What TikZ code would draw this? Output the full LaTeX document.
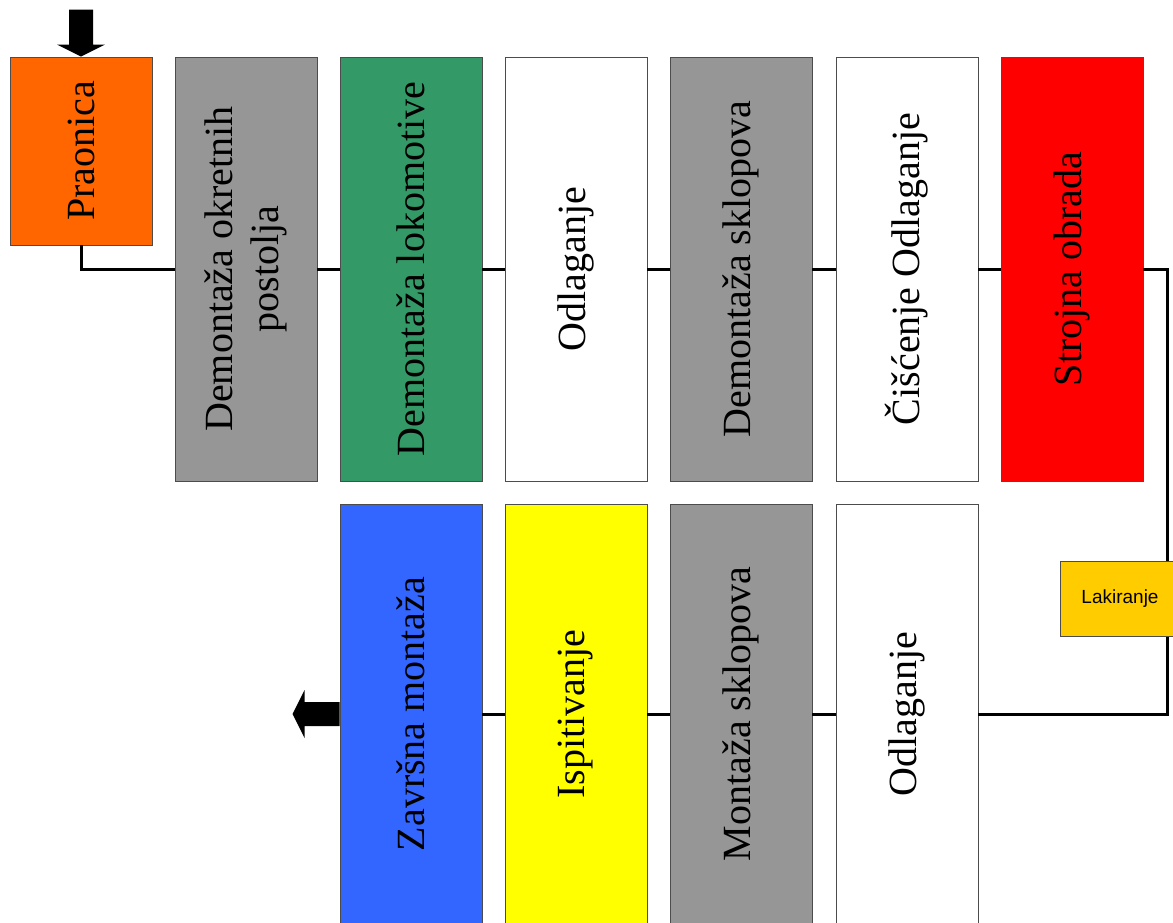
\documentclass[tikz,border=0pt]{standalone}
\usepackage{fontspec}
\setmainfont{Liberation Serif}
\setsansfont{Liberation Sans}
\definecolor{washorange}{RGB}{255, 102, 0}
\definecolor{stagegray}{RGB}{150, 150, 150}
\definecolor{stagegreen}{RGB}{51, 153, 102}
\definecolor{stagered}{RGB}{255, 0, 0}
\definecolor{stageblue}{RGB}{51, 102, 255}
\definecolor{stageyellow}{RGB}{255, 255, 0}
\definecolor{paintgold}{RGB}{255, 204, 0}
\usepackage{tikz}
\usetikzlibrary{arrows.meta}

\begin{document}
\begin{tikzpicture}[x=1pt, y=-1pt,
  stage/.style={draw=black!70, line width=0.8pt, minimum width=142pt, minimum height=424pt, inner sep=0pt},
  vtext/.style={rotate=90, font=\fontsize{40}{46}\selectfont, align=center},
  flow/.style={line width=3pt}]
  \useasboundingbox (0, 0) rectangle (1173, 923);
  \clip (0, 0) rectangle (1173, 923);

  % Upper row of stages
  \node[stage, fill=washorange, minimum height=188pt] (wash) at (81, 151) {};
  \node[stage, fill=stagegray] (bogie) at (246, 269) {};
  \node[stage, fill=stagegreen] (loco) at (411, 269) {};
  \node[stage, fill=white] (store1) at (576, 269) {};
  \node[stage, fill=stagegray] (units) at (741, 269) {};
  \node[stage, fill=white] (clean) at (907, 269) {};
  \node[stage, fill=stagered] (mach) at (1072, 269) {};

  \node[vtext] (washtxt) at (wash) {Praonica};
  \node[vtext] (bogietxt) at (bogie) {Demontaža okretnih\\postolja};
  \node[vtext] (locotxt) at (loco) {Demontaža lokomotive};
  \node[vtext] (store1txt) at (store1) {Odlaganje};
  \node[vtext] (unitstxt) at (units) {Demontaža sklopova};
  \node[vtext] (cleantxt) at (clean) {Čišćenje Odlaganje};
  \node[vtext] (machtxt) at (mach) {Strojna obrada};

  % Lower row of stages
  \node[stage, fill=white, minimum height=420pt] (store2) at (907, 714) {};
  \node[stage, fill=stagegray, minimum height=420pt] (mount) at (741, 714) {};
  \node[stage, fill=stageyellow, minimum height=420pt] (test) at (576, 714) {};
  \node[stage, fill=stageblue, minimum height=420pt] (final) at (411, 714) {};

  \node[vtext] (store2txt) at (store2) {Odlaganje};
  \node[vtext] (mounttxt) at (mount) {Montaža sklopova};
  \node[vtext] (testtxt) at (test) {Ispitivanje};
  \node[vtext] (finaltxt) at (final) {Završna montaža};

  % Flow lines
  \draw[flow] (wash.south) |- (bogie.west);
  \draw[flow] (bogie.east) -- (loco.west);
  \draw[flow] (loco.east) -- (store1.west);
  \draw[flow] (store1.east) -- (units.west);
  \draw[flow] (units.east) -- (clean.west);
  \draw[flow] (clean.east) -- (mach.west);
  \draw[flow] (mach.east) -- ++(24, 0) |- (store2.east);
  \draw[flow] (store2.west) -- (mount.east);
  \draw[flow] (mount.west) -- (test.east);
  \draw[flow] (test.west) -- (final.east);

  \node[draw=black!70, line width=0.8pt, fill=paintgold, minimum width=120pt, minimum height=75pt,
        font=\sffamily\fontsize{19}{22}\selectfont] (paint) at (1120, 598.5) {Lakiranje};

  % Entry and exit arrows
  \fill (wash.north) -- ++(-24, -12) -- ++(12, 0) -- ++(0, -35) -- ++(24, 0) -- ++(0, 35) -- ++(12, 0) -- cycle;
  \fill (final.west) ++(0, -12) -- ++(-35, 0) -- ++(0, -12) -- ++(-12, 24) -- ++(12, 24) -- ++(0, -12) -- ++(35, 0) -- cycle;
\end{tikzpicture}
\end{document}
